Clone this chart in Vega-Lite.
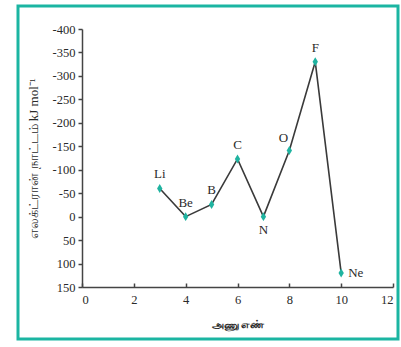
{
  "$schema": "https://vega.github.io/schema/vega-lite/v6.json",
  "width": 380,
  "height": 333,
  "autosize": "none",
  "padding": {"left": 18, "top": 6, "right": 3, "bottom": 8},
  "background": "white",
  "config": {
    "view": {"stroke": "#1bb5a2", "strokeWidth": 3},
    "axis": {"labelFont": "Liberation Serif", "titleFont": "Liberation Serif", "titleFontWeight": "normal", "labelColor": "#2a2a2a", "titleColor": "#2a2a2a", "domainColor": "#444", "tickColor": "#444", "grid": false}
  },
  "data": {
    "values": [
      {"z": 3, "e": -60, "el": "Li", "pos": "above"},
      {"z": 4, "e": 0, "el": "Be", "pos": "above"},
      {"z": 5, "e": -26, "el": "B", "pos": "above"},
      {"z": 6, "e": -123, "el": "C", "pos": "above"},
      {"z": 7, "e": 0, "el": "N", "pos": "below"},
      {"z": 8, "e": -141, "el": "O", "pos": "aboveleft"},
      {"z": 9, "e": -330, "el": "F", "pos": "above"},
      {"z": 10, "e": 120, "el": "Ne", "pos": "right"}
    ]
  },
  "encoding": {
    "x": {
      "field": "z", "type": "quantitative",
      "scale": {"domain": [0, 12], "range": [64, 375], "nice": false, "zero": false},
      "axis": {"title": "அணு எண்", "values": [0, 2, 4, 6, 8, 10, 12], "offset": -52, "tickSize": -4, "labelPadding": 10, "labelFontSize": 12.5, "titleFontSize": 11, "titleFontWeight": "bold", "titlePadding": 13, "titleFont": "Noto Sans", "domainWidth": 1.5, "tickWidth": 1.5}
    },
    "y": {
      "field": "e", "type": "quantitative",
      "scale": {"domain": [-400, 150], "range": [23, 281], "nice": false, "zero": false},
      "axis": {"title": "எலக்ட்ரான் நாட்டம் kJ mol⁻¹", "values": [-400, -350, -300, -250, -200, -150, -100, -50, 0, 50, 100, 150], "labelExpr": "'' + datum.value", "offset": -64, "tickSize": 4, "labelPadding": 3, "labelFontSize": 12.5, "titleFontSize": 13, "titlePadding": 12, "domainWidth": 1.5, "tickWidth": 1.5}
    }
  },
  "layer": [
    {"mark": {"type": "line", "color": "#3a3a3a", "strokeWidth": 1.6}},
    {"mark": {"type": "point", "shape": "M0,-1L0.6,0L0,1L-0.6,0Z", "filled": true, "color": "#1fb3a0", "opacity": 1, "size": 80}},
    {"transform": [{"filter": "datum.pos === 'above'"}], "mark": {"type": "text", "font": "Liberation Serif", "fontSize": 13, "dy": -14, "color": "#2a2a2a"}, "encoding": {"text": {"field": "el"}}},
    {"transform": [{"filter": "datum.pos === 'aboveleft'"}], "mark": {"type": "text", "font": "Liberation Serif", "fontSize": 13, "dy": -12, "dx": -6, "color": "#2a2a2a"}, "encoding": {"text": {"field": "el"}}},
    {"transform": [{"filter": "datum.pos === 'below'"}], "mark": {"type": "text", "font": "Liberation Serif", "fontSize": 13, "dy": 13, "color": "#2a2a2a"}, "encoding": {"text": {"field": "el"}}},
    {"transform": [{"filter": "datum.pos === 'right'"}], "mark": {"type": "text", "font": "Liberation Serif", "fontSize": 13, "dx": 7, "align": "left", "color": "#2a2a2a"}, "encoding": {"text": {"field": "el"}}}
  ]
}
